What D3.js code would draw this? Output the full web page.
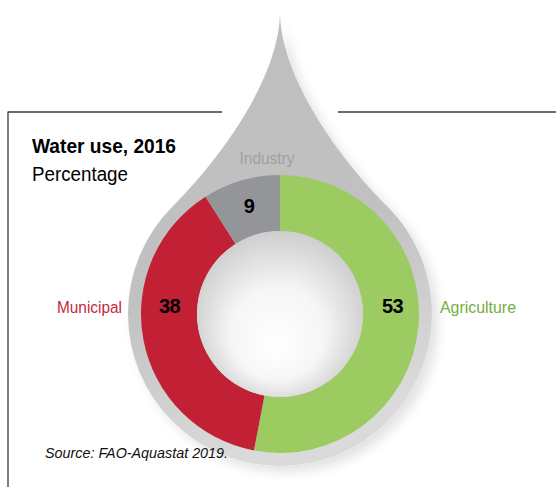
<!DOCTYPE html>
<html>
<head>
<meta charset="utf-8">
<script src="https://cdn.jsdelivr.net/npm/d3@7"></script>
<style>
  html, body { margin: 0; padding: 0; background: #ffffff; }
  svg { display: block; font-family: "Liberation Sans", Arial, Helvetica, sans-serif; }
</style>
</head>
<body>
<svg id="chart" width="556" height="487"></svg>
<script>
// ---- data ----
const categories = ["Agriculture", "Municipal", "Industry"];
const values = [53, 38, 9];
const sliceColors = ["#9ccb62", "#c22035", "#939598"];
const labelColors = ["#74ad44", "#c4283c", "#a0a0a2"];
const titleText = "Water use, 2016";
const subtitleText = "Percentage";
const sourceText = "Source: FAO-Aquastat 2019.";

// ---- layout ----
const W = 556, H = 487;
const cx = 280, cy = 314;
const rOuter = 139, rInner = 83, rDrop = 152;
const tipY = 13;

const svg = d3.select("#chart");
const defs = svg.append("defs");

// gradients / filters
const holeGrad = defs.append("radialGradient").attr("id", "holeGrad")
  .attr("cx", 0.5).attr("cy", 0.5).attr("r", 0.62).attr("fx", 0.47).attr("fy", 0.72);
holeGrad.append("stop").attr("offset", "0").attr("stop-color", "#ffffff");
holeGrad.append("stop").attr("offset", "0.45").attr("stop-color", "#f6f6f6");
holeGrad.append("stop").attr("offset", "1").attr("stop-color", "#c0c0c0");

const dropGrad = defs.append("linearGradient").attr("id", "dropGrad")
  .attr("x1", 0).attr("y1", 0).attr("x2", 0.25).attr("y2", 1);
dropGrad.append("stop").attr("offset", "0").attr("stop-color", "#bebebe");
dropGrad.append("stop").attr("offset", "0.6").attr("stop-color", "#c1c1c1");
dropGrad.append("stop").attr("offset", "1").attr("stop-color", "#dadada");

const shadow = defs.append("filter").attr("id", "dropShadow")
  .attr("x", "-20%").attr("y", "-10%").attr("width", "140%").attr("height", "130%");
shadow.append("feGaussianBlur").attr("in", "SourceAlpha").attr("stdDeviation", 6).attr("result", "b");
shadow.append("feOffset").attr("in", "b").attr("dx", 6).attr("dy", 6).attr("result", "o");
shadow.append("feComponentTransfer").attr("in", "o").attr("result", "s")
  .append("feFuncA").attr("type", "linear").attr("slope", 0.12);
const merge = shadow.append("feMerge");
merge.append("feMergeNode").attr("in", "s");
merge.append("feMergeNode").attr("in", "SourceGraphic");

// ---- frame lines ----
const frame = svg.append("g").attr("stroke", "#3a3a3a").attr("stroke-width", 1.3).attr("fill", "none");
frame.append("line").attr("x1", 8).attr("y1", 112).attr("x2", 222).attr("y2", 112);
frame.append("line").attr("x1", 338).attr("y1", 112).attr("x2", W).attr("y2", 112);
frame.append("line").attr("x1", 8).attr("y1", 111.4).attr("x2", 8).attr("y2", H);

// ---- water drop ----
const a = Math.PI / 4;
const tx = rDrop * Math.sin(a), ty = rDrop * Math.cos(a);
const k = 75;
const p = d3.path();
p.moveTo(cx, tipY);
p.bezierCurveTo(cx + 1, 75, cx + tx - k * Math.SQRT1_2, cy - ty - k * Math.SQRT1_2, cx + tx, cy - ty);
p.arc(cx, cy, rDrop, -Math.PI / 4, 5 * Math.PI / 4, false);
p.bezierCurveTo(cx - tx + k * Math.SQRT1_2, cy - ty - k * Math.SQRT1_2, cx - 1, 75, cx, tipY);
p.closePath();
svg.append("path").attr("d", p.toString()).attr("fill", "url(#dropGrad)").attr("filter", "url(#dropShadow)");

// ---- donut ----
const pie = d3.pie().sort(null).value(d => d.value);
const arcs = pie(categories.map((c, i) => ({ cat: c, value: values[i], i })));
const arc = d3.arc().innerRadius(rInner).outerRadius(rOuter);
const g = svg.append("g").attr("transform", `translate(${cx},${cy})`);
g.selectAll("path.slice").data(arcs).join("path")
  .attr("class", "slice")
  .attr("d", arc)
  .attr("fill", d => sliceColors[d.data.i]);
g.append("circle").attr("r", rInner).attr("fill", "url(#holeGrad)");

// value labels
const rMid = (rInner + rOuter) / 2;
const valPos = {
  "Agriculture": [rMid + 1.5, 0],
  "Municipal": [-rMid + 0.5, 0],
  "Industry": null
};
g.selectAll("text.val").data(arcs).join("text")
  .attr("class", "val")
  .attr("x", d => valPos[d.data.cat] ? valPos[d.data.cat][0] : arc.centroid(d)[0])
  .attr("y", d => valPos[d.data.cat] ? -1.3 : arc.centroid(d)[1] + 5.5)
  .attr("text-anchor", "middle")
  .attr("font-size", 20).attr("font-weight", "bold").attr("fill", "#000")
  .attr("letter-spacing", -0.6)
  .text(d => d.data.value);

// category labels
const catPos = {
  "Agriculture": [cx + 160, 312.7, "start", 76],
  "Municipal": [cx - 158, 312.7, "end", 65],
  "Industry": [cx - 13, 164, "middle", 55]
};
svg.selectAll("text.cat").data(arcs).join("text")
  .attr("class", "cat")
  .attr("x", d => catPos[d.data.cat][0])
  .attr("y", d => catPos[d.data.cat][1])
  .attr("text-anchor", d => catPos[d.data.cat][2])
  .attr("font-size", 16.3)
  .attr("textLength", d => catPos[d.data.cat][3])
  .attr("lengthAdjust", "spacingAndGlyphs")
  .attr("fill", d => labelColors[d.data.i])
  .text(d => d.data.cat);

// ---- titles ----
svg.append("text").attr("x", 32).attr("y", 152.5)
  .attr("font-size", 20.5).attr("font-weight", "bold").attr("fill", "#000")
  .attr("textLength", 144).attr("lengthAdjust", "spacingAndGlyphs")
  .text(titleText);
svg.append("text").attr("x", 32).attr("y", 180.5)
  .attr("font-size", 20).attr("fill", "#000")
  .attr("textLength", 96).attr("lengthAdjust", "spacingAndGlyphs")
  .text(subtitleText);
svg.append("text").attr("x", 45).attr("y", 458)
  .attr("font-size", 14.3).attr("font-style", "italic").attr("fill", "#111")
  .attr("textLength", 183).attr("lengthAdjust", "spacingAndGlyphs")
  .text(sourceText);
</script>
</body>
</html>
